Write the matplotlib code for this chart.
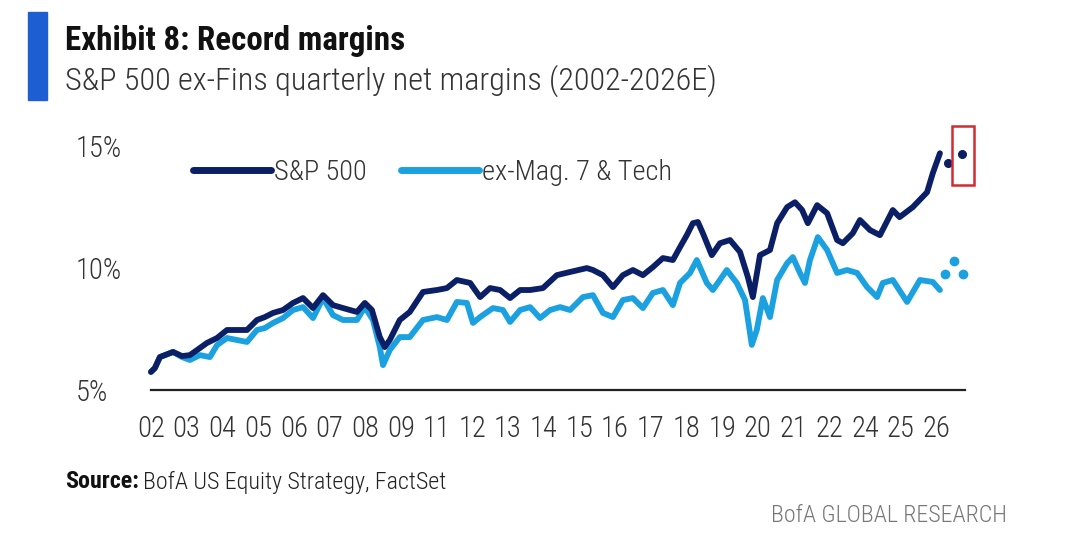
import matplotlib
matplotlib.use("Agg")
import matplotlib.pyplot as plt
from matplotlib.patches import Rectangle

# --- данные (x = позиция подписи года, 0 = "02") ---
year_labels = ["02", "03", "04", "05", "06", "07", "08", "09", "11", "12", "13",
               "14", "15", "16", "17", "18", "19", "20", "21", "22", "24", "25", "26"]

sp500_pos = [0.00, 0.11, 0.25, 0.62, 0.87, 1.09, 1.37, 1.57, 1.85, 2.13, 2.41, 2.69,
             2.97, 3.19, 3.42, 3.70, 3.98, 4.26, 4.54, 4.82, 5.10, 5.38, 5.77, 5.99,
             6.19, 6.41, 6.55, 6.69, 6.97, 7.25, 7.62, 8.01, 8.29, 8.57, 8.94, 9.22,
             9.50, 9.78, 10.06, 10.34, 10.62, 10.98, 11.37, 11.74, 12.21, 12.38, 12.66,
             12.94, 13.22, 13.50, 13.78, 14.06, 14.34, 14.62, 14.82, 15.01, 15.18, 15.32,
             15.46, 15.71, 15.94, 16.22, 16.50, 16.72, 16.86, 17.06, 17.34, 17.54, 17.82,
             18.04, 18.24, 18.40, 18.66, 18.94, 19.22, 19.38, 19.66, 19.86, 20.14, 20.42,
             20.78, 20.97, 21.34, 21.74, 21.90, 22.10]
sp500_margin = [5.74, 5.90, 6.35, 6.56, 6.39, 6.43, 6.72, 6.93, 7.13, 7.46, 7.46, 7.46,
                7.87, 7.99, 8.16, 8.28, 8.57, 8.77, 8.36, 8.89, 8.48, 8.36, 8.20, 8.57,
                8.28, 7.17, 6.76, 7.05, 7.87, 8.20, 9.02, 9.10, 9.18, 9.51, 9.39, 8.81,
                9.18, 9.10, 8.77, 9.10, 9.10, 9.18, 9.71, 9.84, 10.00, 9.92, 9.71,
                9.22, 9.71, 9.92, 9.71, 10.04, 10.41, 10.33, 10.86, 11.35, 11.84, 11.89,
                11.43, 10.53, 11.02, 11.15, 10.66, 9.63, 8.81, 10.53, 10.74, 11.84, 12.50,
                12.70, 12.38, 11.84, 12.58, 12.25, 11.15, 11.02, 11.43, 11.97, 11.56, 11.35,
                12.38, 12.09, 12.50, 13.11, 13.89, 14.71]

exmag_pos = [0.00, 0.11, 0.25, 0.62, 0.87, 1.09, 1.37, 1.65, 1.85, 2.13, 2.41, 2.69,
             2.97, 3.19, 3.42, 3.70, 3.98, 4.26, 4.54, 4.82, 5.10, 5.38, 5.77, 5.99,
             6.22, 6.41, 6.50, 6.69, 6.97, 7.25, 7.62, 8.01, 8.29, 8.57, 8.85, 9.02,
             9.22, 9.58, 9.86, 10.06, 10.34, 10.62, 10.90, 11.18, 11.46, 11.74, 12.10,
             12.38, 12.66, 12.94, 13.22, 13.50, 13.78, 14.06, 14.34, 14.62, 14.82, 15.10,
             15.29, 15.57, 15.74, 16.13, 16.41, 16.64, 16.83, 16.97, 17.14, 17.34, 17.54,
             17.82, 17.98, 18.18, 18.32, 18.46, 18.68, 18.94, 19.22, 19.50, 19.78, 20.06,
             20.34, 20.50, 20.78, 21.18, 21.54, 21.90, 22.10]
exmag_margin = [5.74, 5.90, 6.35, 6.56, 6.35, 6.23, 6.43, 6.35, 6.84, 7.13, 7.05, 6.97,
                7.46, 7.54, 7.75, 7.95, 8.28, 8.40, 7.95, 8.77, 8.07, 7.87, 7.87, 8.40,
                7.87, 6.76, 6.02, 6.64, 7.17, 7.17, 7.87, 7.99, 7.87, 8.61, 8.57, 7.75,
                7.99, 8.36, 8.28, 7.79, 8.28, 8.40, 7.95, 8.28, 8.40, 8.28, 8.81,
                8.89, 8.16, 7.99, 8.69, 8.77, 8.36, 8.98, 9.10, 8.48, 9.39, 9.80,
                10.33, 9.39, 9.10, 9.92, 9.39, 8.69, 6.85, 7.46, 8.77, 7.99, 9.51,
                10.20, 10.45, 9.80, 9.39, 10.33, 11.27, 10.74, 9.80, 9.92, 9.80, 9.22,
                8.81, 9.39, 9.51, 8.61, 9.51, 9.43, 9.10]

# оценки (точки)
sp500_est_pos = [22.32, 22.72]
sp500_est = [14.30, 14.67]
exmag_est_pos = [22.24, 22.49, 22.74]
exmag_est = [9.75, 10.30, 9.75]

y_ticks = [5, 10, 15]

DARK = "#0b1f66"
LIGHT = "#1ba1e0"
FONT = ["Roboto Condensed", "DejaVu Sans"]


def fit_size(fig, text, width_px, **kw):
    """Кегль, при котором text занимает width_px пикселей"""
    probe = fig.text(0, 0, text, fontsize=20, **kw)
    fig.canvas.draw()
    w = probe.get_window_extent().width
    probe.remove()
    return 20 * width_px / w


def main():
    plt.rcParams["font.family"] = FONT
    plt.rcParams["font.weight"] = 300

    fig = plt.figure(figsize=(10.86, 5.34), dpi=100)
    ax = fig.add_axes([0.139, 0.2697, 0.7495, 0.4794])

    ax.plot(sp500_pos, sp500_margin, color=DARK, lw=4.2, solid_joinstyle="round",
            solid_capstyle="round", clip_on=False, label="S&P 500", zorder=3)
    ax.plot(exmag_pos, exmag_margin, color=LIGHT, lw=4.2, solid_joinstyle="round",
            solid_capstyle="round", clip_on=False, label="ex-Mag. 7 & Tech", zorder=2)
    ax.plot(sp500_est_pos, sp500_est, "o", color=DARK, ms=5.5, clip_on=False, zorder=3)
    ax.plot(exmag_est_pos, exmag_est, "o", color=LIGHT, ms=6, clip_on=False, zorder=2)

    # красная рамка вокруг последней оценки
    bx = sp500_est_pos[-1]
    by = sp500_est[-1]
    ax.add_patch(Rectangle((bx - 0.27, by - 1.27), 0.6, 2.42, fill=False,
                           edgecolor="#d42a30", lw=1.8, clip_on=False, zorder=4))

    tick_size = fit_size(fig, "02", 28)
    leg_size = fit_size(fig, "ex-Mag. 7 & Tech", 190)

    ax.set_xlim(0, 22.8)
    ax.set_ylim(5, 15.5)
    ax.set_xticks(range(len(year_labels)))
    ax.set_xticklabels(year_labels)
    ax.set_yticks(y_ticks)
    ax.set_yticklabels([f"{v}%" for v in y_ticks])
    for lab in ax.get_yticklabels():
        lab.set_horizontalalignment("left")
    ax.tick_params(axis="x", length=0, pad=18, labelsize=tick_size, labelcolor="#333333")
    ax.tick_params(axis="y", length=0, pad=54, labelsize=tick_size, labelcolor="#333333")

    for side in ["top", "right", "left"]:
        ax.spines[side].set_visible(False)
    ax.spines["bottom"].set_color("#222222")
    ax.spines["bottom"].set_linewidth(1.6)

    leg = ax.legend(loc="center left", bbox_to_anchor=(0.052, 0.85), ncol=2,
                    frameon=False, fontsize=leg_size, handlelength=2.75, handletextpad=0.1,
                    columnspacing=1.2, borderpad=0, borderaxespad=0)
    for line in leg.get_lines():
        line.set_linewidth(5)
        line.set_solid_capstyle("round")
    for t in leg.get_texts():
        t.set_color("#333333")

    # шапка
    title = "Exhibit 8: Record margins"
    subtitle = "S&P 500 ex-Fins quarterly net margins (2002-2026E)"
    fig.patches.append(Rectangle((28 / 1086, 1 - 100 / 534), 19 / 1086, 88 / 534,
                                 transform=fig.transFigure, color="#1d5fd3", zorder=5))
    fig.text(65 / 1086, 1 - 41 / 534, title, color="#111111", va="center", weight="bold",
             fontsize=fit_size(fig, title, 340, weight="bold"))
    fig.text(65 / 1086, 1 - 81 / 534, subtitle, color="#333333", va="center",
             fontsize=fit_size(fig, subtitle, 653))

    # подвал
    foot_size = fit_size(fig, "BofA GLOBAL RESEARCH", 237)
    src = fig.text(65 / 1086, 1 - 482 / 534, "Source:", fontsize=foot_size, weight="bold",
                   color="#111111", va="center")
    fig.canvas.draw()
    bb = src.get_window_extent()
    fig.text((bb.x1 + 4) / 1086, 1 - 482 / 534, "BofA US Equity Strategy, FactSet",
             fontsize=foot_size, color="#222222", va="center")
    fig.text(1007 / 1086, 1 - 515 / 534, "BofA GLOBAL RESEARCH", fontsize=foot_size,
             color="#777777", va="center", ha="right")

    fig.savefig("out.png", dpi=100)


if __name__ == "__main__":
    main()
